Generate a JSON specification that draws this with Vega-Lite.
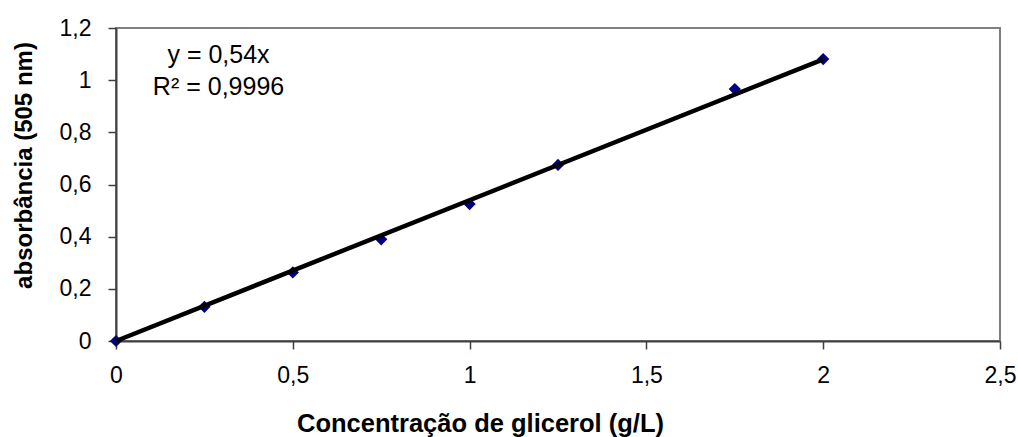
{
  "$schema": "https://vega.github.io/schema/vega-lite/v6.json",
  "width": 884,
  "height": 313,
  "autosize": "none",
  "padding": {"left": 116, "top": 28, "right": 18, "bottom": 96},
  "background": "white",
  "config": {
    "font": "Liberation Sans",
    "view": {"stroke": "#808080", "strokeWidth": 2}
  },
  "datasets": {
    "medidas": [
      {"conc": 0, "abs": 0},
      {"conc": 0.25, "abs": 0.131},
      {"conc": 0.5, "abs": 0.263},
      {"conc": 0.75, "abs": 0.39},
      {"conc": 1.0, "abs": 0.525},
      {"conc": 1.25, "abs": 0.675},
      {"conc": 1.75, "abs": 0.966},
      {"conc": 2.0, "abs": 1.081}
    ],
    "ajuste": [
      {"conc": 0, "abs": 0},
      {"conc": 2.0, "abs": 1.08}
    ]
  },
  "layer": [
    {
      "data": {"name": "medidas"},
      "mark": {"type": "point", "shape": "diamond", "filled": true, "color": "#000080", "size": 150, "opacity": 1},
      "encoding": {
        "x": {
          "field": "conc",
          "type": "quantitative",
          "scale": {"domain": [0, 2.5], "nice": false},
          "axis": {
            "title": "Concentração de glicerol (g/L)",
            "values": [0, 0.5, 1, 1.5, 2, 2.5],
            "format": ".1~f",
            "labelExpr": "replace(datum.label, '.', ',')",
            "grid": false,
            "domainColor": "#404040",
            "domainWidth": 2,
            "tickColor": "#404040",
            "tickWidth": 1.5,
            "tickSize": 8,
            "labelFont": "Liberation Sans",
            "labelFontSize": 23,
            "labelColor": "black",
            "labelPadding": 15,
            "labelFlush": false,
            "titleFont": "Liberation Sans",
            "titleFontSize": 25.5,
            "titleFontWeight": "bold",
            "titleColor": "black",
            "titleX": 364,
            "titleY": 90,
            "titleBaseline": "alphabetic",
            "titleAnchor": "middle"
          }
        },
        "y": {
          "field": "abs",
          "type": "quantitative",
          "scale": {"domain": [0, 1.2], "nice": false},
          "axis": {
            "title": "absorbância (505 nm)",
            "values": [0, 0.2, 0.4, 0.6, 0.8, 1, 1.2],
            "format": ".1~f",
            "labelExpr": "replace(datum.label, '.', ',')",
            "grid": false,
            "domainColor": "#404040",
            "domainWidth": 2,
            "tickColor": "#404040",
            "tickWidth": 1.5,
            "tickSize": 8,
            "labelFont": "Liberation Sans",
            "labelFontSize": 23,
            "labelColor": "black",
            "labelPadding": 17,
            "labelFlush": false,
            "titleFont": "Liberation Sans",
            "titleFontSize": 24,
            "titleFontWeight": "bold",
            "titleColor": "black",
            "titleAngle": -90,
            "titleX": -85,
            "titleY": 137,
            "titleBaseline": "alphabetic",
            "titleAlign": "center"
          }
        }
      }
    },
    {
      "data": {"name": "ajuste"},
      "mark": {"type": "line", "color": "black", "strokeWidth": 4.5},
      "encoding": {
        "x": {"field": "conc", "type": "quantitative"},
        "y": {"field": "abs", "type": "quantitative"}
      }
    },
    {
      "data": {"values": [{"texto": ["y = 0,54x", "R² = 0,9996"]}]},
      "mark": {"type": "text", "font": "Liberation Sans", "fontSize": 25, "align": "center", "baseline": "alphabetic", "lineHeight": 32, "color": "black"},
      "encoding": {
        "x": {"datum": 0.29, "type": "quantitative"},
        "y": {"datum": 1.066, "type": "quantitative"},
        "text": {"field": "texto"}
      }
    }
  ]
}
